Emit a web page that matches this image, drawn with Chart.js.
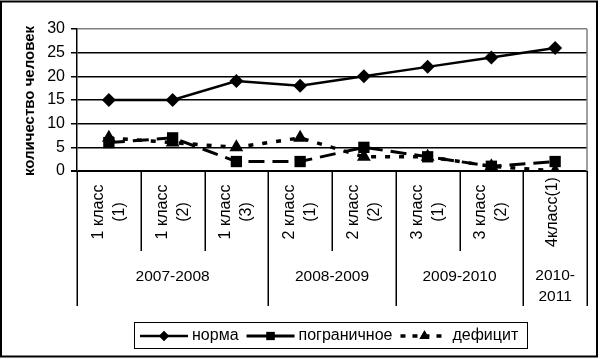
<!DOCTYPE html>
<html><head><meta charset="utf-8">
<script src="https://cdn.jsdelivr.net/npm/chart.js@4/dist/chart.umd.min.js"></script>
<style>html,body{margin:0;padding:0;background:#fff;}#wrap{width:600px;height:359px;position:relative;}</style>
</head><body><div id="wrap"><canvas id="c" width="600" height="359"></canvas></div>
<script>
const categories = [['1 класс','(1)'],['1 класс','(2)'],['1 класс','(3)'],['2 класс','(1)'],['2 класс','(2)'],['3 класс','(1)'],['3 класс','(2)'],['4класс(1)']];
const groupLabels = [['2007-2008'],['2008-2009'],['2009-2010'],['2010-','2011']];
const groupSpans = [3,2,2,1];
const seriesNames = ['норма','пограничное','дефицит'];
const normaValues = [15,15,19,18,20,22,24,26];
const borderlineValues = [6,7,2,2,5,3,1,2];
const deficitValues = [7,6,5,7,3,3,1,0];
const yMin = 0, yMax = 30, yStep = 5;
const yTitle = 'количество человек';

const FONT = '"Liberation Sans", Arial, sans-serif';

const decor = {
  id: 'decor',
  afterDraw(chart) {
    const ctx = chart.ctx;
    const a = chart.chartArea;
    const xs = chart.scales.x;
    ctx.save();
    ctx.strokeStyle = '#808080'; ctx.lineWidth = 1.5;
    ctx.beginPath(); ctx.moveTo(a.right, a.top); ctx.lineTo(a.right, a.bottom); ctx.stroke();
    ctx.fillStyle = '#000';
    ctx.font = 'bold 15px ' + FONT;
    ctx.textAlign = 'center'; ctx.textBaseline = 'middle';
    ctx.save(); ctx.translate(30, (a.top + a.bottom) / 2 + 1); ctx.rotate(-Math.PI / 2);
    ctx.fillText(yTitle, 0, 0); ctx.restore();
    const n = categories.length;
    const bounds = [a.left];
    for (let i = 0; i < n - 1; i++) bounds.push((xs.getPixelForValue(i) + xs.getPixelForValue(i + 1)) / 2);
    bounds.push(a.right);
    const longIdx = new Set([0]);
    let acc = 0; groupSpans.forEach(s => { acc += s; longIdx.add(acc); });
    ctx.strokeStyle = '#000'; ctx.lineWidth = 1.5;
    bounds.forEach((bx, i) => {
      const x = Math.round(bx) + 0.25;
      ctx.beginPath(); ctx.moveTo(x, a.bottom); ctx.lineTo(x, longIdx.has(i) ? 306 : 251); ctx.stroke();
    });
    ctx.font = '16px ' + FONT;
    ctx.fillStyle = '#000';
    categories.forEach((lines, i) => {
      const cx = xs.getPixelForValue(i);
      lines.forEach((t, j) => {
        const off = (j - (lines.length - 1) / 2) * 21 + (lines.length === 1 ? -3 : 0);
        ctx.save(); ctx.translate(cx + off, 212); ctx.rotate(-Math.PI / 2);
        ctx.textAlign = 'center'; ctx.textBaseline = 'middle';
        ctx.fillText(t, 0, 0); ctx.restore();
      });
    });
    ctx.font = '15.5px ' + FONT;
    ctx.textAlign = 'center'; ctx.textBaseline = 'middle';
    let start = 0;
    groupLabels.forEach((lines, g) => {
      const x0 = bounds[start], x1 = bounds[start + groupSpans[g]];
      const cx = (x0 + x1) / 2;
      lines.forEach((t, j) => {
        ctx.fillText(t, cx, lines.length > 1 ? 276 + j * 21 : 277);
      });
      start += groupSpans[g];
    });
    const lx0 = 134, ly0 = 322, lx1 = 527, ly1 = 348;
    ctx.strokeStyle = '#000'; ctx.lineWidth = 1;
    ctx.strokeRect(lx0 + 0.5, ly0 + 0.5, lx1 - lx0, ly1 - ly0);
    const ly = (ly0 + ly1) / 2 + 1;
    let x = 140;
    ctx.font = '16px ' + FONT; ctx.textAlign = 'left'; ctx.textBaseline = 'middle';
    chart.data.datasets.forEach((ds, i) => {
      const len = 48;
      ctx.save();
      ctx.strokeStyle = '#000'; ctx.lineWidth = ds.borderWidth;
      ctx.setLineDash(i === 2 ? [5, 7] : []);
      ctx.beginPath(); ctx.moveTo(x, ly); ctx.lineTo(x + len, ly); ctx.stroke();
      ctx.setLineDash([]);
      ctx.fillStyle = '#000';
      Chart.helpers.drawPoint(ctx, {pointStyle: ds.pointStyle, radius: ds.pointRadius * 0.72, rotation: 0, borderWidth: 0}, x + len / 2, ly);
      ctx.fill();
      ctx.restore();
      ctx.fillStyle = '#000';
      ctx.fillText(ds.label, x + len + 4, ly);
      x += len + 4 + ctx.measureText(ds.label).width + 8;
    });
    ctx.strokeStyle = '#000'; ctx.lineWidth = 2;
    ctx.strokeRect(1, 1.5, 596, 355);
    ctx.restore();
  }
};

new Chart(document.getElementById('c'), {
  type: 'line',
  data: {
    labels: categories.map(c => c.join(' ')),
    datasets: [
      {label: seriesNames[0], data: normaValues, borderColor: '#000', backgroundColor: '#000', borderWidth: 2.5,
       pointStyle: 'rectRot', pointRadius: 7, pointBorderWidth: 0, pointBackgroundColor: '#000', tension: 0},
      {label: seriesNames[1], data: borderlineValues, borderColor: '#000', backgroundColor: '#000', borderWidth: 3,
       borderDash: [16, 8], pointStyle: 'rect', pointRadius: 8, pointBorderWidth: 0, pointBackgroundColor: '#000', tension: 0},
      {label: seriesNames[2], data: deficitValues, borderColor: '#000', backgroundColor: '#000', borderWidth: 3.5,
       borderDash: [5, 9], pointStyle: 'triangle', pointRadius: 8, pointBorderWidth: 0, pointBackgroundColor: '#000', tension: 0}
    ]
  },
  options: {
    responsive: false, animation: false, devicePixelRatio: 1,
    layout: {padding: {left: 0, top: 29, right: 13, bottom: 188}},
    plugins: {legend: {display: false}, tooltip: {enabled: false}},
    scales: {
      x: {display: false, offset: true},
      y: {
        min: yMin, max: yMax,
        afterFit(s) { s.width = 77; },
        ticks: {stepSize: yStep, color: '#000', padding: 6, font: {family: FONT, size: 16}},
        grid: {
          color: c => (c.tick && c.tick.value === yMax) ? '#808080' : '#000',
          lineWidth: c => (c.tick && c.tick.value === yMin) ? 2 : 1.5,
          tickLength: 6, tickColor: '#000'
        },
        border: {display: true, color: '#000', width: 1.5}
      }
    }
  },
  plugins: [decor]
});
</script></body></html>
